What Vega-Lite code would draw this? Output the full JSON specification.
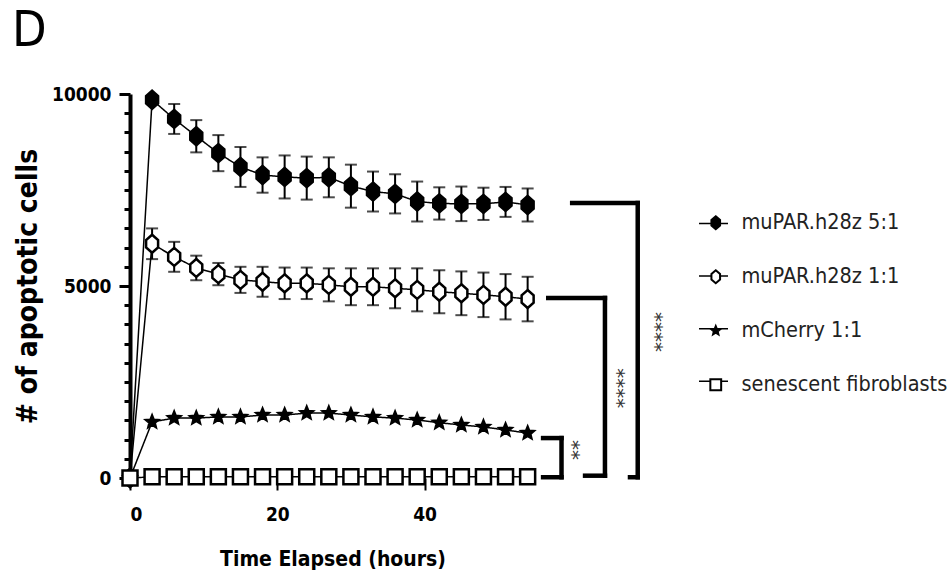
{
  "$schema": "https://vega.github.io/schema/vega-lite/v6.json",
  "width": 405,
  "height": 384,
  "autosize": {"type": "none"},
  "padding": {"left": 130, "top": 94, "right": 416, "bottom": 105},
  "background": "white",
  "title": {
    "text": "D",
    "anchor": "start",
    "frame": "group",
    "font": "DejaVu Sans Condensed",
    "fontSize": 50,
    "fontWeight": "normal",
    "color": "black",
    "dx": -118,
    "offset": 29
  },
  "config": {
    "view": {"stroke": null},
    "legend": {
      "orient": "none",
      "padding": 0,
      "labelFont": "DejaVu Sans Condensed",
      "labelFontSize": 21.5,
      "labelColor": "#222",
      "labelLimit": 400
    }
  },
  "datasets": {
    "series": [
      {"g": "muPAR.h28z 5:1", "t": 0, "m": 0, "sd": 0},
      {"g": "muPAR.h28z 5:1", "t": 3, "m": 9850, "sd": 100},
      {"g": "muPAR.h28z 5:1", "t": 6, "m": 9350, "sd": 390},
      {"g": "muPAR.h28z 5:1", "t": 9, "m": 8900, "sd": 420},
      {"g": "muPAR.h28z 5:1", "t": 12, "m": 8460, "sd": 470},
      {"g": "muPAR.h28z 5:1", "t": 15, "m": 8100, "sd": 520},
      {"g": "muPAR.h28z 5:1", "t": 18, "m": 7890, "sd": 460},
      {"g": "muPAR.h28z 5:1", "t": 21, "m": 7840, "sd": 560},
      {"g": "muPAR.h28z 5:1", "t": 24, "m": 7810, "sd": 560},
      {"g": "muPAR.h28z 5:1", "t": 27, "m": 7830, "sd": 520},
      {"g": "muPAR.h28z 5:1", "t": 30, "m": 7600, "sd": 560},
      {"g": "muPAR.h28z 5:1", "t": 33, "m": 7460, "sd": 520},
      {"g": "muPAR.h28z 5:1", "t": 36, "m": 7400, "sd": 510},
      {"g": "muPAR.h28z 5:1", "t": 39, "m": 7200, "sd": 520},
      {"g": "muPAR.h28z 5:1", "t": 42, "m": 7150, "sd": 420},
      {"g": "muPAR.h28z 5:1", "t": 45, "m": 7140, "sd": 450},
      {"g": "muPAR.h28z 5:1", "t": 48, "m": 7140, "sd": 420},
      {"g": "muPAR.h28z 5:1", "t": 51, "m": 7190, "sd": 390},
      {"g": "muPAR.h28z 5:1", "t": 54, "m": 7110, "sd": 430},
      {"g": "muPAR.h28z 1:1", "t": 0, "m": 0, "sd": 0},
      {"g": "muPAR.h28z 1:1", "t": 3, "m": 6100, "sd": 400},
      {"g": "muPAR.h28z 1:1", "t": 6, "m": 5760, "sd": 390},
      {"g": "muPAR.h28z 1:1", "t": 9, "m": 5470, "sd": 320},
      {"g": "muPAR.h28z 1:1", "t": 12, "m": 5310, "sd": 290},
      {"g": "muPAR.h28z 1:1", "t": 15, "m": 5160, "sd": 340},
      {"g": "muPAR.h28z 1:1", "t": 18, "m": 5110, "sd": 390},
      {"g": "muPAR.h28z 1:1", "t": 21, "m": 5070, "sd": 410},
      {"g": "muPAR.h28z 1:1", "t": 24, "m": 5070, "sd": 410},
      {"g": "muPAR.h28z 1:1", "t": 27, "m": 5030, "sd": 430},
      {"g": "muPAR.h28z 1:1", "t": 30, "m": 4980, "sd": 480},
      {"g": "muPAR.h28z 1:1", "t": 33, "m": 4980, "sd": 480},
      {"g": "muPAR.h28z 1:1", "t": 36, "m": 4940, "sd": 520},
      {"g": "muPAR.h28z 1:1", "t": 39, "m": 4900, "sd": 560},
      {"g": "muPAR.h28z 1:1", "t": 42, "m": 4850, "sd": 560},
      {"g": "muPAR.h28z 1:1", "t": 45, "m": 4810, "sd": 570},
      {"g": "muPAR.h28z 1:1", "t": 48, "m": 4770, "sd": 580},
      {"g": "muPAR.h28z 1:1", "t": 51, "m": 4720, "sd": 590},
      {"g": "muPAR.h28z 1:1", "t": 54, "m": 4660, "sd": 580},
      {"g": "mCherry 1:1", "t": 0, "m": 0, "sd": 0},
      {"g": "mCherry 1:1", "t": 3, "m": 1460, "sd": 0},
      {"g": "mCherry 1:1", "t": 6, "m": 1560, "sd": 0},
      {"g": "mCherry 1:1", "t": 9, "m": 1560, "sd": 0},
      {"g": "mCherry 1:1", "t": 12, "m": 1590, "sd": 0},
      {"g": "mCherry 1:1", "t": 15, "m": 1590, "sd": 0},
      {"g": "mCherry 1:1", "t": 18, "m": 1640, "sd": 0},
      {"g": "mCherry 1:1", "t": 21, "m": 1640, "sd": 0},
      {"g": "mCherry 1:1", "t": 24, "m": 1690, "sd": 0},
      {"g": "mCherry 1:1", "t": 27, "m": 1690, "sd": 0},
      {"g": "mCherry 1:1", "t": 30, "m": 1640, "sd": 0},
      {"g": "mCherry 1:1", "t": 33, "m": 1590, "sd": 0},
      {"g": "mCherry 1:1", "t": 36, "m": 1560, "sd": 0},
      {"g": "mCherry 1:1", "t": 39, "m": 1510, "sd": 0},
      {"g": "mCherry 1:1", "t": 42, "m": 1440, "sd": 0},
      {"g": "mCherry 1:1", "t": 45, "m": 1380, "sd": 0},
      {"g": "mCherry 1:1", "t": 48, "m": 1330, "sd": 0},
      {"g": "mCherry 1:1", "t": 51, "m": 1250, "sd": 0},
      {"g": "mCherry 1:1", "t": 54, "m": 1170, "sd": 0},
      {"g": "senescent fibroblasts", "t": 0, "m": 0, "sd": 0},
      {"g": "senescent fibroblasts", "t": 3, "m": 30, "sd": 0},
      {"g": "senescent fibroblasts", "t": 6, "m": 30, "sd": 0},
      {"g": "senescent fibroblasts", "t": 9, "m": 30, "sd": 0},
      {"g": "senescent fibroblasts", "t": 12, "m": 30, "sd": 0},
      {"g": "senescent fibroblasts", "t": 15, "m": 30, "sd": 0},
      {"g": "senescent fibroblasts", "t": 18, "m": 30, "sd": 0},
      {"g": "senescent fibroblasts", "t": 21, "m": 30, "sd": 0},
      {"g": "senescent fibroblasts", "t": 24, "m": 30, "sd": 0},
      {"g": "senescent fibroblasts", "t": 27, "m": 30, "sd": 0},
      {"g": "senescent fibroblasts", "t": 30, "m": 30, "sd": 0},
      {"g": "senescent fibroblasts", "t": 33, "m": 30, "sd": 0},
      {"g": "senescent fibroblasts", "t": 36, "m": 30, "sd": 0},
      {"g": "senescent fibroblasts", "t": 39, "m": 30, "sd": 0},
      {"g": "senescent fibroblasts", "t": 42, "m": 30, "sd": 0},
      {"g": "senescent fibroblasts", "t": 45, "m": 30, "sd": 0},
      {"g": "senescent fibroblasts", "t": 48, "m": 30, "sd": 0},
      {"g": "senescent fibroblasts", "t": 51, "m": 30, "sd": 0},
      {"g": "senescent fibroblasts", "t": 54, "m": 30, "sd": 0}
    ],
    "brackets": [
      {"t": 60.05, "t2": 68.95, "m": 7160, "m2": 7160},
      {"t": 68.95, "t2": 68.95, "m": 7160, "m2": 20},
      {"t": 67.9, "t2": 68.95, "m": 20, "m2": 20},
      {"t": 56.8, "t2": 64.5, "m": 4690, "m2": 4690},
      {"t": 64.5, "t2": 64.5, "m": 4690, "m2": 60},
      {"t": 61.8, "t2": 64.5, "m": 60, "m2": 60},
      {"t": 56.1, "t2": 58.6, "m": 1040, "m2": 1040},
      {"t": 58.6, "t2": 58.6, "m": 1040, "m2": 20},
      {"t": 56.1, "t2": 58.6, "m": 20, "m2": 20}
    ],
    "stars": [
      {"t": 71.3, "m": 3800, "label": "****"},
      {"t": 66.2, "m": 2340, "label": "****"},
      {"t": 60.05, "m": 730, "label": "**"}
    ]
  },
  "encoding": {
    "x": {
      "field": "t",
      "type": "quantitative",
      "title": "Time Elapsed (hours)",
      "scale": {"domain": [0, 55], "nice": false, "zero": false},
      "axis": {
        "values": [0, 20, 40],
        "domain": false,
        "grid": false,
        "tickSize": 12,
        "tickWidth": 2,
        "tickColor": "black",
        "labelFont": "DejaVu Sans Condensed",
        "labelFontSize": 19,
        "labelFontWeight": "bold",
        "labelColor": "black",
        "labelPadding": 15,
        "titleFont": "DejaVu Sans Condensed",
        "titleFontSize": 21,
        "titleFontWeight": "bold",
        "titleColor": "black",
        "titlePadding": 24
      }
    },
    "y": {
      "field": "m",
      "type": "quantitative",
      "title": "# of apoptotic cells",
      "scale": {"domain": [0, 10000], "nice": false},
      "axis": {
        "values": [0, 500, 1000, 1500, 2000, 2500, 3000, 3500, 4000, 4500, 5000, 5500, 6000, 6500, 7000, 7500, 8000, 8500, 9000, 9500, 10000],
        "format": "d",
        "labelExpr": "datum.value % 5000 === 0 ? datum.label : ''",
        "grid": false,
        "domainColor": "black",
        "domainWidth": 4,
        "tickColor": "black",
        "tickWidth": 3,
        "tickSize": {"condition": {"test": "datum.value % 5000 === 0", "value": 11}, "value": 6},
        "labelFont": "DejaVu Sans Condensed",
        "labelFontSize": 19,
        "labelFontWeight": "bold",
        "labelColor": "black",
        "labelPadding": 8,
        "titleFont": "DejaVu Sans Condensed",
        "titleFontSize": 28,
        "titleFontWeight": "bold",
        "titleColor": "black",
        "titlePadding": 9
      }
    }
  },
  "layer": [
    {
      "data": {"name": "series"},
      "mark": {"type": "line", "color": "black", "strokeWidth": 1.5},
      "encoding": {
        "detail": {"field": "g"},
        "strokeDash": {
          "field": "g",
          "type": "nominal",
          "scale": {
            "domain": ["senescent fibroblasts", "mCherry 1:1", "muPAR.h28z 1:1", "muPAR.h28z 5:1"],
            "range": [[1, 0], [1, 0], [1, 0], [1, 0]]
          },
          "legend": {
            "title": null,
            "symbolType": "stroke",
            "symbolSize": 841,
            "symbolStrokeWidth": 1.5,
            "symbolStrokeColor": "black",
            "labelExpr": "''",
            "legendX": 568,
            "legendY": 114,
            "rowPadding": 26.6
          }
        }
      }
    },
    {
      "data": {"name": "series"},
      "transform": [{"filter": "datum.sd > 0"}],
      "mark": {
        "type": "errorbar",
        "color": "black",
        "rule": {"strokeWidth": 2},
        "ticks": {"size": 12, "thickness": 2}
      },
      "encoding": {"yError": {"field": "sd"}}
    },
    {
      "data": {"name": "series"},
      "mark": {"type": "point", "filled": true, "size": 100, "stroke": "black", "strokeWidth": 2.5, "opacity": 1},
      "encoding": {
        "shape": {
          "field": "g",
          "type": "nominal",
          "scale": {
            "domain": ["muPAR.h28z 5:1", "muPAR.h28z 1:1", "mCherry 1:1", "senescent fibroblasts"],
            "range": [
              "M0,-1.8L1.2,-0.75L1.2,0.75L0,1.8L-1.2,0.75L-1.2,-0.75Z",
              "M0,-1.8L1.2,-0.75L1.2,0.75L0,1.8L-1.2,0.75L-1.2,-0.75Z",
              "M0,-1.25L0.323,-0.445L1.189,-0.386L0.523,0.17L0.735,1.011L0,0.55L-0.735,1.011L-0.523,0.17L-1.189,-0.386L-0.323,-0.445Z",
              "M-1.5,-1.5L1.5,-1.5L1.5,1.5L-1.5,1.5Z"
            ]
          },
          "legend": {
            "title": null,
            "legendX": 575,
            "legendY": 118,
            "labelOffset": 15,
            "symbolSize": 52,
            "symbolStrokeWidth": 2,
            "rowPadding": 31
          }
        },
        "fill": {
          "field": "g",
          "type": "nominal",
          "scale": {
            "domain": ["muPAR.h28z 5:1", "muPAR.h28z 1:1", "mCherry 1:1", "senescent fibroblasts"],
            "range": ["black", "white", "black", "white"]
          },
          "legend": null
        }
      }
    },
    {
      "data": {"name": "brackets"},
      "mark": {"type": "rule", "color": "black", "strokeWidth": 4.5, "strokeCap": "square"},
      "encoding": {"x2": {"field": "t2"}, "y2": {"field": "m2"}}
    },
    {
      "data": {"name": "stars"},
      "mark": {"type": "text", "font": "DejaVu Sans", "fontSize": 20, "color": "#333", "angle": 90, "align": "center", "baseline": "middle"},
      "encoding": {"text": {"field": "label"}}
    }
  ]
}
